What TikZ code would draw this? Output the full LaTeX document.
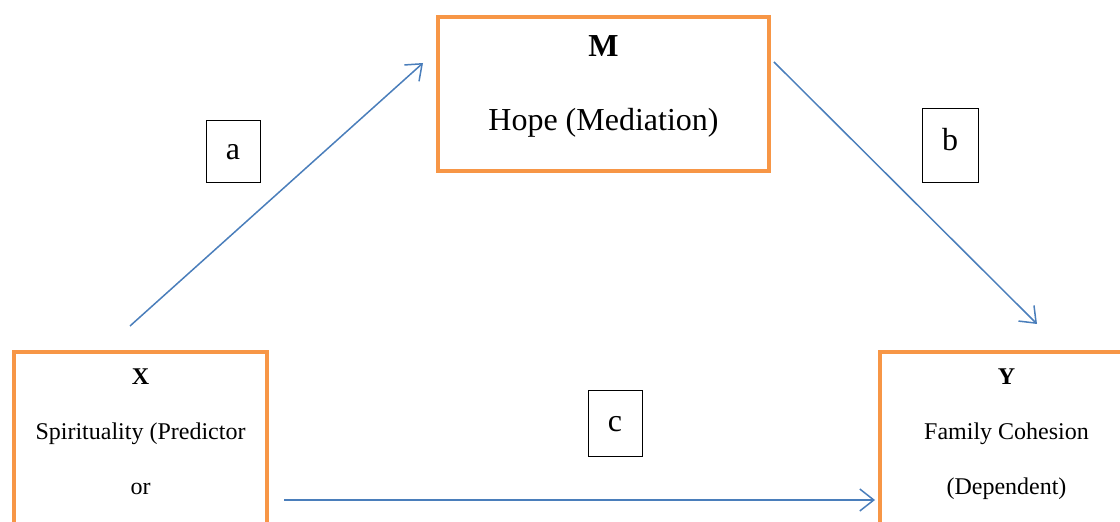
\documentclass[tikz,border=0pt]{standalone}
\usepackage{fontspec}
\setmainfont{Liberation Serif}
\usepackage{xcolor}
\usepackage{tikz}
\usetikzlibrary{arrows.meta,positioning}
\definecolor{boxorange}{HTML}{F79646}
\definecolor{flowblue}{HTML}{4A7EBB}

\begin{document}
\begin{tikzpicture}[x=0.5pt, y=-0.5pt,
    varbox/.style={draw=boxorange, line width=2pt, rectangle, inner sep=0pt},
    vartext/.style={align=center, inner sep=0pt, font={\fontsize{12pt}{27.5pt}\selectfont}},
    pathbox/.style={draw=black, line width=0.5pt, rectangle, inner sep=0pt,
        minimum width=27pt, font={\fontsize{16pt}{19pt}\selectfont}},
    flow/.style={->, flowblue, line width=0.75pt, >={Straight Barb[length=7pt, width=11pt]}}]
    \useasboundingbox (0,0) rectangle (1120,522);
    \clip (0,0) rectangle (1120,522);
    % Draw the three variable boxes
    \node[varbox, minimum width=165.5pt, minimum height=77pt] (M) at (603.5,94) {};
    \node[varbox, minimum width=126.5pt, minimum height=124pt] (X) at (140.5,476) {};
    \node[varbox, minimum width=126.5pt, minimum height=124pt] (Y) at (1006.5,476) {};
    % Texts inside the boxes
    \node[vartext, font={\fontsize{16pt}{37pt}\selectfont}, below=10pt of M.north] (Mtext)
        {\textbf{M}\\Hope (Mediation)};
    \node[vartext, below=9pt of X.north] (Xtext) {\textbf{X}\\Spirituality (Predictor\\or};
    \node[vartext, below=9pt of Y.north] (Ytext) {\textbf{Y}\\Family Cohesion\\(Dependent)};
    % Draw the paths
    \draw[flow] ([shift={(-10.5,-24)}]X.north) -- ([shift={(-13,-31)}]M.west);
    \draw[flow] ([shift={(3,-32)}]M.east) -- ([shift={(30.5,-26)}]Y.north);
    \draw[flow] ([shift={(15,24)}]X.east) -- ([shift={(-3,24)}]Y.west);
    % Path labels
    \node[pathbox, minimum height=31pt] (a) at (233,152) {a};
    \node[pathbox, minimum width=28pt, minimum height=37pt, text depth=7pt] (b) at (950,146) {b};
    \node[pathbox, minimum height=33pt] (c) at (615,424) {c};
\end{tikzpicture}
\end{document}
